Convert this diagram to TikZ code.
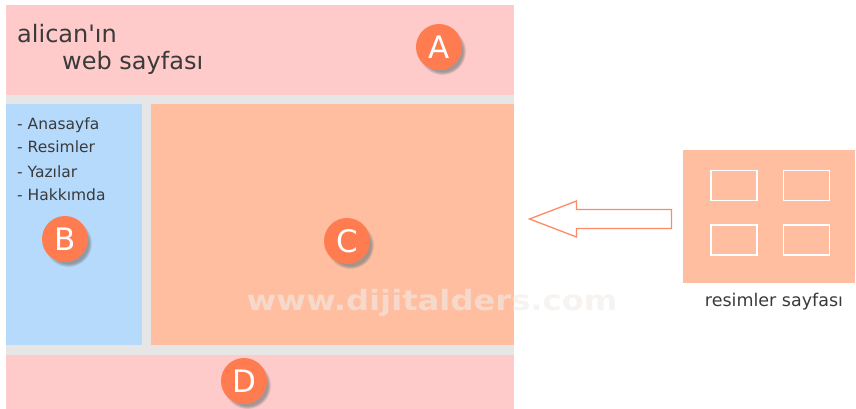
\documentclass[tikz,border=0pt]{standalone}
\usepackage{fontspec}
\setmainfont{DejaVu Sans}
\newfontfamily\titlefont{DejaVu Sans}[Ligatures=TeXOff]
\usetikzlibrary{shadows}
\definecolor{pinkband}{HTML}{FFCACA}
\definecolor{greyband}{HTML}{E6E6E6}
\definecolor{blueband}{HTML}{B6DAFC}
\definecolor{peach}{HTML}{FFBE9F}
\definecolor{circ}{HTML}{FF7B50}
\definecolor{arrowc}{HTML}{FF8A66}
\definecolor{txt}{HTML}{3A3A3A}
\definecolor{wmark}{RGB}{240,235,232}
\tikzset{
  band/.style={draw=none, inner sep=0, anchor=north west},
  badge/.style={circle, minimum size=46pt, inner sep=0, fill=circ, text=white,
    font=\fontsize{31}{31}\selectfont,
    circular drop shadow={shadow xshift=3pt, shadow yshift=-4pt, shadow scale=1.04, opacity=0.7}},
  menu/.style={anchor=base west, inner sep=0, text=txt, font=\fontsize{15.5}{15.5}\selectfont},
  title/.style={anchor=base west, inner sep=0, text=txt, font=\titlefont\fontsize{24}{24}\selectfont},
  thumb/.style={draw=white, line width=1.2pt, fill=none, inner sep=0, minimum width=46pt, minimum height=30pt}
}
\begin{document}
\begin{tikzpicture}[x=1pt,y=-1pt]
\useasboundingbox (0,0) rectangle (856,409);
% background bands
\node[band, fill=greyband, minimum width=508pt, minimum height=260pt] (G) at (6,95) {};
\node[band, fill=pinkband, minimum width=508pt, minimum height=90pt] (A) at (6,5) {};
\node[band, fill=blueband, minimum width=136pt, minimum height=241pt] (B) at (6,104) {};
\node[band, fill=peach, minimum width=363pt, minimum height=241pt] (C) at (151,104) {};
\node[band, fill=pinkband, minimum width=508pt, minimum height=54pt] (D) at (6,355) {};
% title
\node[title] (t1) at (17,43) {alican'ın};
\node[title] (t2) at (62,70) {web sayfası};
% menu
\node[menu] (m1) at (17,130) {- Anasayfa};
\node[menu] (m2) at (17,153) {- Resimler};
\node[menu] (m3) at (17,177) {- Yazılar};
\node[menu] (m4) at (17,200) {- Hakkımda};
% watermark
\node[anchor=base, text=wmark, opacity=0.6, xscale=1.15,
  font=\bfseries\fontsize{28}{28}\selectfont] (wm) at (432,310) {www.dijitalders.com};
% badges
\node[badge] (bA) at (439,47) {A};
\node[badge] (bB) at (65,239) {B};
\node[badge] (bC) at (347,241) {C};
\node[badge] (bD) at (244,381) {D};
% right box
\node[band, fill=peach, minimum width=172pt, minimum height=133pt] (R) at (683,150) {};
\node[thumb] (r1) at (734,185.7) {};
\node[thumb] (r2) at (806.7,185.7) {};
\node[thumb] (r3) at (734,240) {};
\node[thumb] (r4) at (806.7,240) {};
\node[anchor=base, text=txt, font=\fontsize{17.5}{17.5}\selectfont] (rl) at (774,306) {resimler sayfası};
% block arrow
\coordinate (atip) at (529.5,219);
\draw[arrowc, line width=1.3pt, fill=white, line join=miter]
  (671.5,209.5) -- (576.5,209.5) -- (576.5,201) -- (atip) -- (576.5,237)
  -- (576.5,228.5) -- (671.5,228.5) -- cycle;
\end{tikzpicture}
\end{document}
